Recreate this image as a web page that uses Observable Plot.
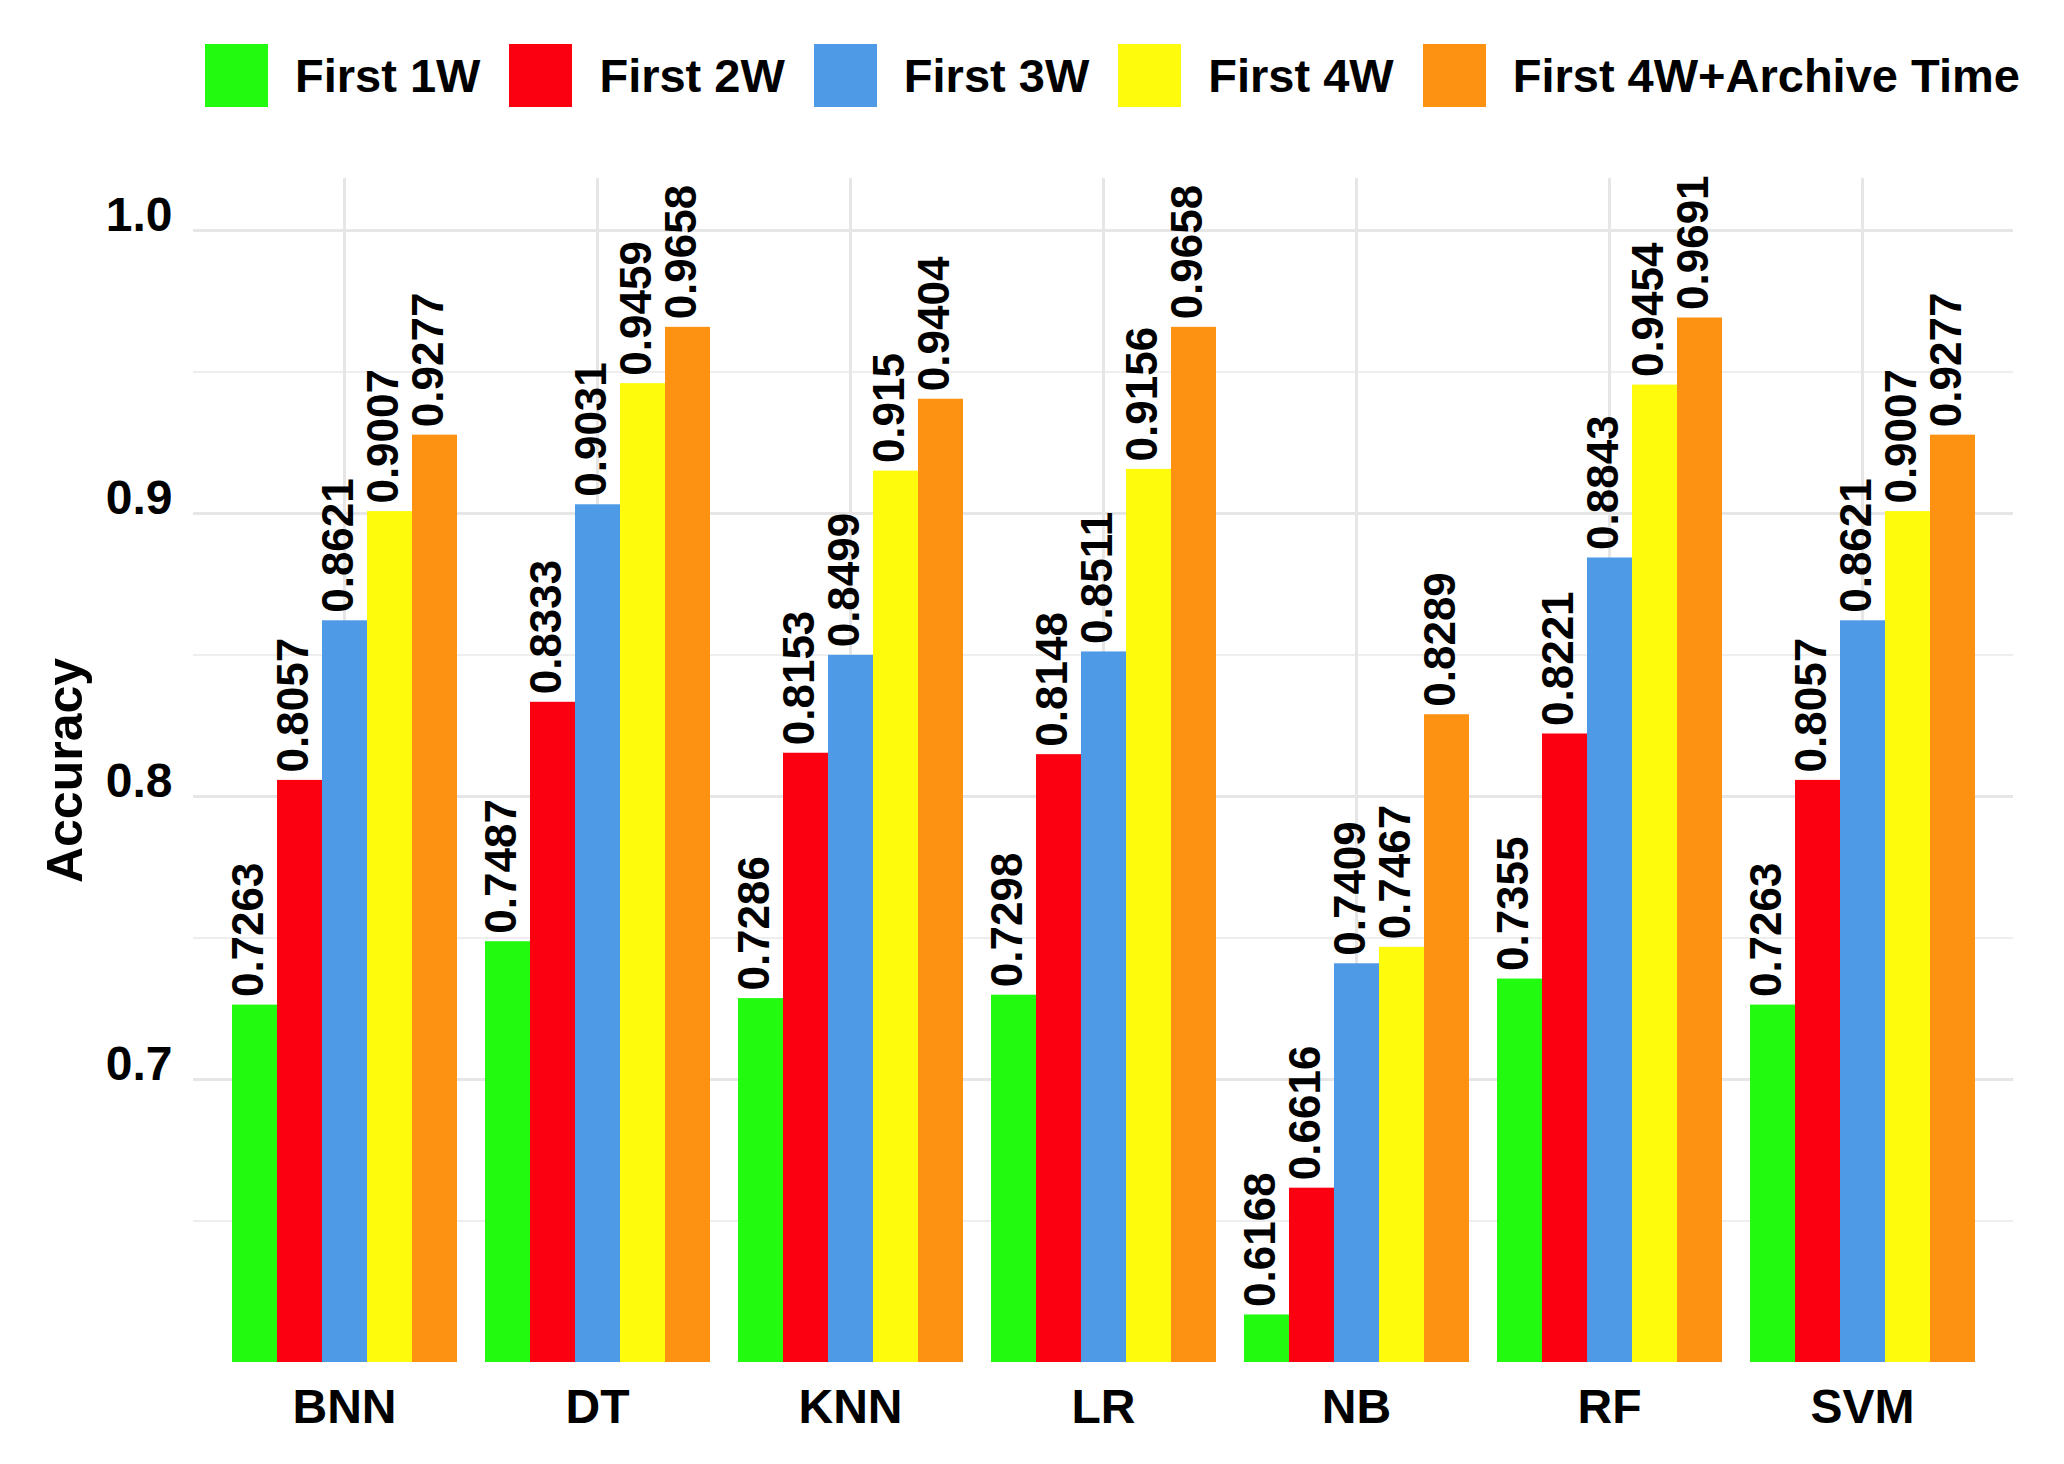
<!DOCTYPE html>
<html>
<head>
<meta charset="utf-8">
<script src="https://cdn.jsdelivr.net/npm/d3@7"></script>
<script src="https://cdn.jsdelivr.net/npm/@observablehq/plot@0.6"></script>
<style>
  html, body { margin: 0; padding: 0; background: #fff; }
  body { width: 2064px; font-family: "Liberation Sans", Arial, sans-serif; }
  #legend { height: 150px; box-sizing: border-box; padding-top: 44px; padding-left: 205px; display: flex; align-items: flex-start; }
  #legend .item { display: flex; align-items: center; height: 63px; }
  #legend .sw { width: 63px; height: 63px; margin-right: 27px; }
  #legend .lb { font-size: 47px; font-weight: bold; color: #000; margin-right: 29px; line-height: 63px; white-space: nowrap; }
  #chart { position: relative; width: 2064px; height: 1314px; }
  #chart svg { display: block; position: absolute; left: 0; top: 0; }
</style>
</head>
<body>
<div id="legend"></div>
<div id="chart"></div>
<script>
const models = ["BNN", "DT", "KNN", "LR", "NB", "RF", "SVM"];
const series = ["First 1W", "First 2W", "First 3W", "First 4W", "First 4W+Archive Time"];
const first1W = [0.7263, 0.7487, 0.7286, 0.7298, 0.6168, 0.7355, 0.7263];
const first2W = [0.8057, 0.8333, 0.8153, 0.8148, 0.6616, 0.8221, 0.8057];
const first3W = [0.8621, 0.9031, 0.8499, 0.8511, 0.7409, 0.8843, 0.8621];
const first4W = [0.9007, 0.9459, 0.915, 0.9156, 0.7467, 0.9454, 0.9007];
const first4WArchive = [0.9277, 0.9658, 0.9404, 0.9658, 0.8289, 0.9691, 0.9277];
const colors = ["#22fb10", "#fa0011", "#4e9ae6", "#fffb0d", "#fd9212"];
const yTicksMajor = [0.7, 0.8, 0.9, 1.0];
const yTicksMinor = [0.65, 0.75, 0.85, 0.95];
const yDomain = [0.6, 1.0184];

const seriesValues = [first1W, first2W, first3W, first4W, first4WArchive];
const data = [];
models.forEach((m, i) => {
  series.forEach((s, j) => data.push({model: m, series: s, value: seriesValues[j][i]}));
});

// legend
const legend = document.getElementById("legend");
series.forEach((s, j) => {
  const it = document.createElement("div");
  it.className = "item";
  const sw = document.createElement("div");
  sw.className = "sw";
  sw.style.background = colors[j];
  const lb = document.createElement("div");
  lb.className = "lb";
  lb.textContent = s;
  it.appendChild(sw); it.appendChild(lb);
  legend.appendChild(it);
});

const font = "Liberation Sans, Arial, sans-serif";
const common = {
  width: 2064,
  height: 1314,
  marginTop: 28,
  marginBottom: 102,
  marginLeft: 193,
  marginRight: 51
};
const bandPad = {paddingInner: 0.107, paddingOuter: 0.15};

// background layer: grid, axes, y label
const back = Plot.plot({
  ...common,
  style: {fontFamily: font, color: "#000", background: "#fff"},
  x: {type: "band", domain: models, ...bandPad, label: null},
  y: {domain: yDomain, label: null},
  marks: [
    Plot.ruleY(yTicksMinor, {y: d => d, stroke: "#eeeeee", strokeWidth: 2}),
    Plot.ruleY(yTicksMajor, {y: d => d, stroke: "#e6e6e6", strokeWidth: 3}),
    Plot.gridX({stroke: "#e6e6e6", strokeOpacity: 1, strokeWidth: 3}),
    Plot.axisX({anchor: "bottom", tickSize: 0, tickPadding: 26, fontSize: 48, fontWeight: "bold", label: null}),
    Plot.axisY({ticks: yTicksMajor, tickFormat: d3.format(".1f"), tickSize: 0, tickPadding: 21, fontSize: 48, fontWeight: "bold", dy: -15, label: null}),
    Plot.text(["Accuracy"], {frameAnchor: "left", textAnchor: "middle", text: d => d, rotate: -90, dx: -128, fontSize: 50, fontWeight: "bold", fill: "#000"})
  ]
});

// foreground layer: grouped bars and value labels
const front = Plot.plot({
  ...common,
  style: {fontFamily: font, color: "#000", background: "transparent"},
  fx: {domain: models, ...bandPad, label: null, axis: null},
  x: {domain: series, padding: 0, axis: null},
  y: {domain: yDomain, label: null, axis: null},
  color: {domain: series, range: colors},
  marks: [
    Plot.barY(data, {fx: "model", x: "series", y1: yDomain[0], y2: "value", fill: "series"}),
    Plot.text(data, {
      fx: "model", x: "series", y: "value", text: d => String(d.value),
      rotate: -90, textAnchor: "start", dy: -8, dx: -6,
      fontSize: 44, fontWeight: "bold", fill: "#000"
    })
  ]
});
const chartDiv = document.getElementById("chart");
chartDiv.appendChild(back);
chartDiv.appendChild(front);
</script>
</body>
</html>
